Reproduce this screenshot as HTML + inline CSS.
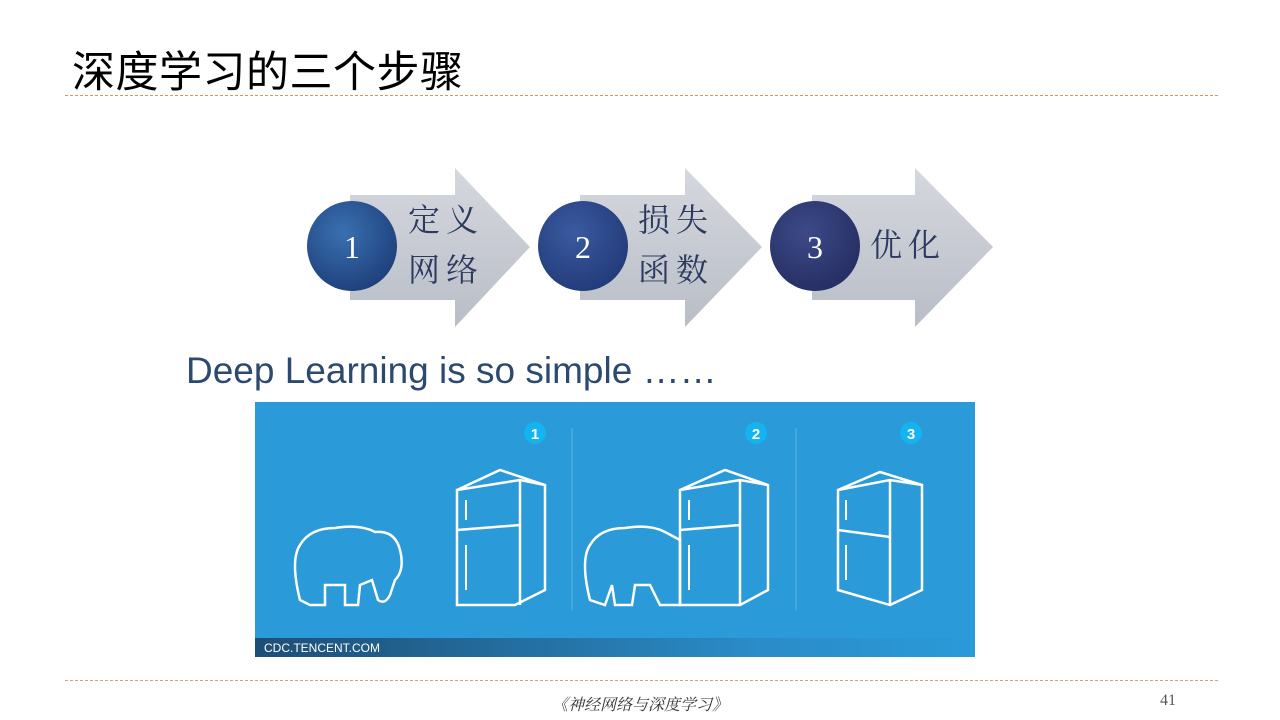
<!DOCTYPE html>
<html><head><meta charset="utf-8"><style>
body{margin:0;width:1280px;height:720px;background:#fff;position:relative;overflow:hidden;font-family:"Liberation Sans","Noto Sans CJK SC",sans-serif}
.abs{position:absolute}
.title{left:72px;top:38px;font-size:43px;letter-spacing:0.5px;color:#000;white-space:nowrap}
.line{left:65px;width:1153px;border-top:1px dashed #d9a060}
.sub{left:186px;top:350px;font-size:37px;color:#2c4a70;white-space:nowrap}
.foot{left:0;width:1280px;top:692px;text-align:center;font-size:16px;color:#333;font-family:"Liberation Serif","Noto Serif CJK SC",serif;font-style:italic}
.pg{left:1160px;top:692px;font-size:16px;color:#555;font-family:"Liberation Serif",serif}
.lbl{font-family:"Noto Serif CJK SC",serif;font-size:32px;color:#2c3a60;letter-spacing:6px;line-height:50px;white-space:nowrap}
</style></head><body>
<div class="abs title">深度学习的三个步骤</div>
<div class="abs line" style="top:95px;border-top-color:#d49a55"></div>
<svg class="abs" style="left:0;top:0" width="1280" height="720">
<defs>
<linearGradient id="ag" x1="0" y1="0" x2="0" y2="1"><stop offset="0" stop-color="#d5d8de"/><stop offset="1" stop-color="#b9bdc6"/></linearGradient>
<radialGradient id="c1" cx="0.4" cy="0.35" r="0.7"><stop offset="0" stop-color="#3a70b0"/><stop offset="1" stop-color="#1d3f7a"/></radialGradient>
<radialGradient id="c2" cx="0.4" cy="0.35" r="0.7"><stop offset="0" stop-color="#3a5aa0"/><stop offset="1" stop-color="#223a78"/></radialGradient>
<radialGradient id="c3" cx="0.4" cy="0.35" r="0.7"><stop offset="0" stop-color="#3c4a88"/><stop offset="1" stop-color="#252e62"/></radialGradient>
<linearGradient id="bar" x1="0" x2="1"><stop offset="0" stop-color="#1d4e75"/><stop offset="0.7" stop-color="#2a8cc8"/><stop offset="1" stop-color="#2a9ad8"/></linearGradient>
</defs>
<g fill="url(#ag)">
<polygon points="350,195 455,195 455,168 530,247 455,327 455,300 350,300"/>
<polygon points="580,195 685,195 685,168 762,247 685,327 685,300 580,300"/>
<polygon points="812,195 915,195 915,168 993,247 915,327 915,300 812,300"/>
</g>
<circle cx="352" cy="246" r="45" fill="url(#c1)"/>
<circle cx="583" cy="246" r="45" fill="url(#c2)"/>
<circle cx="815" cy="246" r="45" fill="url(#c3)"/>
<g fill="#fff" font-family="Liberation Serif,serif" font-size="32" text-anchor="middle">
<text x="352" y="258">1</text><text x="583" y="258">2</text><text x="815" y="258">3</text>
</g>
<rect x="255" y="402" width="720" height="255" fill="#2a9ad8"/>
<rect x="255" y="638" width="720" height="19" fill="url(#bar)"/>
<text x="264" y="652" fill="#fff" font-size="12" font-family="Liberation Sans,sans-serif">CDC.TENCENT.COM</text>
<g stroke="#5ab4e4" stroke-width="1"><line x1="572" y1="428" x2="572" y2="610"/><line x1="796" y1="428" x2="796" y2="610"/></g>
<g fill="#14b4f0"><circle cx="535" cy="433" r="11"/><circle cx="756" cy="433" r="11"/><circle cx="911" cy="433" r="11"/></g>
<g fill="#fff" font-size="15" font-weight="bold" text-anchor="middle" font-family="Liberation Sans,sans-serif">
<text x="535" y="439">1</text><text x="756" y="439">2</text><text x="911" y="439">3</text></g>
<g fill="none" stroke="#fff" stroke-width="2.5">
<path d="M300,600 Q290,560 300,545 Q310,528 335,528 Q360,524 375,532 Q395,530 400,550 Q405,570 395,580 L390,595 Q385,605 378,600 L372,580 L360,585 L358,605 L345,605 L345,585 L325,585 L325,605 L310,605 Z"/>
<path d="M590,600 Q580,560 590,545 Q600,528 625,528 Q650,524 665,532 L680,540 L680,605 L660,605 L650,585 L635,585 L632,605 L615,605 L612,585 L605,605 Z"/>
<path d="M457,490 L520,480 L545,485 L545,590 L515,605 L457,605 Z M457,490 L500,470 L545,485 M520,480 L520,605 M457,530 L520,525"/>
<path d="M680,490 L740,480 L768,485 L768,590 L740,605 L680,605 Z M680,490 L725,470 L768,485 M740,480 L740,605 M680,530 L740,525"/>
<path d="M838,490 L890,480 L922,485 L922,590 L890,605 L838,590 Z M838,490 L880,472 L922,485 M890,480 L890,605 M838,530 L890,537"/>
</g>
<g fill="none" stroke="#fff" stroke-width="2"><path d="M466,500 L466,520 M466,545 L466,590 M689,500 L689,520 M689,545 L689,590 M846,500 L846,520 M846,545 L846,580"/></g>
</svg>
<div class="abs lbl" style="left:408px;top:193px">定义<br>网络</div>
<div class="abs lbl" style="left:638px;top:193px">损失<br>函数</div>
<div class="abs lbl" style="left:870px;top:218px">优化</div>
<div class="abs sub">Deep Learning is so simple ……</div>
<div class="abs line" style="top:680px"></div>
<div class="abs foot">《神经网络与深度学习》</div>
<div class="abs pg">41</div>
</body></html>
